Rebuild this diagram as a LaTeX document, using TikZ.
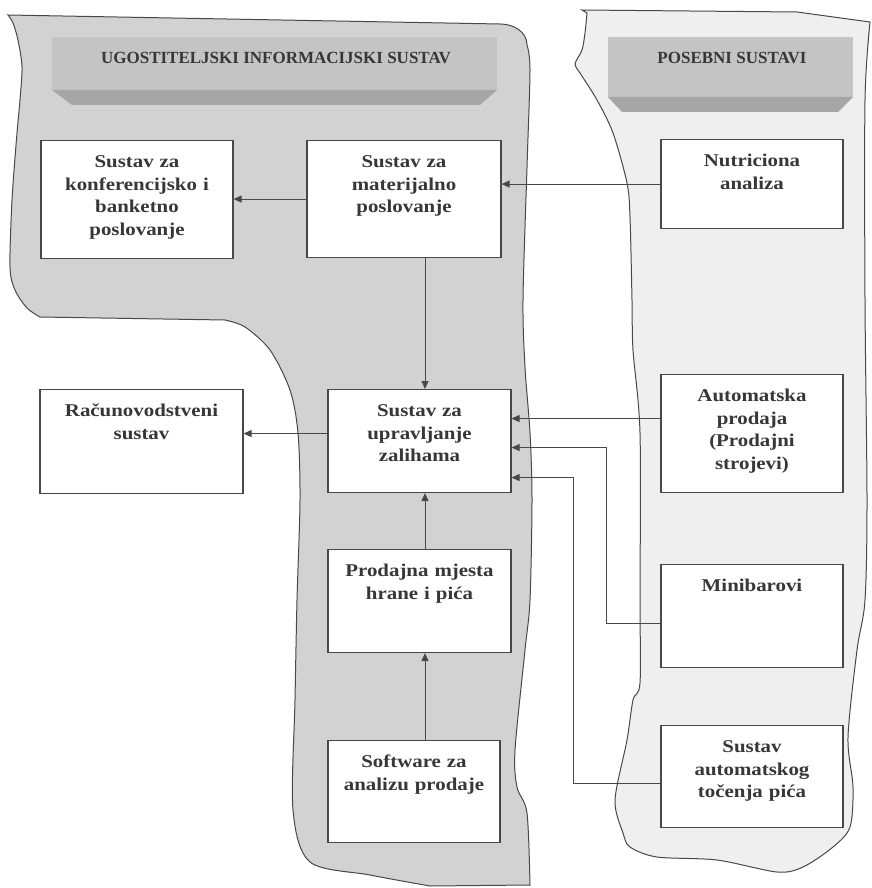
\documentclass[tikz,border=0pt]{standalone}
\usepackage{fontspec}
\usepackage{tikz}
\usetikzlibrary{arrows.meta,positioning,calc}
\setmainfont{Liberation Serif}
\newfontfamily\boxfont{Liberation Serif}[FakeStretch=1.16]
\definecolor{regionGray}{RGB}{210,210,210}
\definecolor{regionLight}{RGB}{239,239,239}
\definecolor{bannerGray}{RGB}{196,196,196}
\definecolor{bevelGray}{RGB}{166,166,166}
\definecolor{lineGray}{RGB}{72,72,72}
\definecolor{textGray}{RGB}{55,55,55}

\begin{document}
\begin{tikzpicture}[x=1pt,y=-1pt,
    region/.style={draw=lineGray, line width=1pt},
    sysbox/.style={draw=lineGray, line width=1.1pt, fill=white, text=textGray,
      anchor=north, align=center, inner xsep=0pt, inner ysep=0pt,
      text height=27pt, font=\boxfont\bfseries\fontsize{18}{22.5}\selectfont},
    hdr/.style={text=textGray, font=\bfseries\fontsize{17}{20}\selectfont},
    flow/.style={draw=lineGray, line width=1pt, -{Triangle[length=8pt,width=7pt]}}]
  \fill[white] (0,0) rectangle (871,888);
  \useasboundingbox (0,0) rectangle (871,888);

  % hospitality system region
  \filldraw[region, fill=regionGray] (8,15) -- (500,24) to[out=0,in=90] (527,45)
    -- plot[smooth,tension=.5] coordinates {(527,45) (530,70) (527,167) (523,300) (525,367)
       (530,433) (532,500) (530,600) (525,650) (515,750) (517,787) (527,813) (530,885)}
    -- (430,886)
    -- plot[smooth,tension=.5] coordinates {(430,886) (370,875) (310,862) (293,810) (295,700)
       (297,600) (300,500) (298,433) (290,390) (270,350) (245,327) (225,320)}
    -- (40,317)
    -- plot[smooth,tension=.5] coordinates {(40,317) (27,308) (15,290) (10,267) (12,200)
       (17,133) (20,100) (22,67) (18,40) (13,23) (8,15)}
    -- cycle;

  % special systems region
  \filldraw[region, fill=regionLight] (582,10) -- (797,12) -- (870,22)
    -- plot[smooth,tension=.5] coordinates {(870,22) (865,100) (865,300) (867,500) (865,600)
       (857,650) (848,737) (853,787) (850,827) (833,847) (803,867) (777,872) (717,860)
       (657,857) (630,847) (623,833) (615,800) (627,740) (633,700) (640,683) (640,600)
       (640,433) (633,350) (632,300) (630,217) (627,183) (613,133) (597,100) (580,73)
       (575,64) (582,50) (585,33) (587,13)}
    -- cycle;

  % banners
  \fill[bannerGray] (52,37) rectangle (497,90);
  \fill[bevelGray] (52,90) -- (497,90) -- (480,105) -- (72,105) -- cycle;
  \fill[bannerGray] (608,37) rectangle (853,97);
  \fill[bevelGray] (608,97) -- (853,97) -- (838,112) -- (622,112) -- cycle;
  \node[hdr] (hdrL) at (276,58) {UGOSTITELJSKI INFORMACIJSKI SUSTAV};
  \node[hdr] (hdrR) at (732,58) {POSEBNI SUSTAVI};

  % boxes
  \node[sysbox, text width=192pt, text depth=91pt] (konf) at (137,140) {Sustav za\\konferencijsko i\\banketno\\poslovanje};
  \node[sysbox, text width=194pt, text depth=90pt] (mat) at (404,140) {Sustav za\\materijalno\\poslovanje};
  \node[sysbox, text width=182pt, text depth=62pt] (nutri) at (752,139) {Nutriciona\\analiza};
  \node[sysbox, text width=203pt, text depth=77pt] (rac) at (141.5,389) {Računovodstveni\\sustav};
  \node[sysbox, text width=183pt, text depth=76pt] (zal) at (419.5,389) {Sustav za\\upravljanje\\zalihama};
  \node[sysbox, text width=182pt, text depth=91pt] (auto) at (752,374) {Automatska\\prodaja\\(Prodajni\\strojevi)};
  \node[sysbox, text width=183pt, text depth=76pt] (prod) at (419.5,549) {Prodajna mjesta\\hrane i pića};
  \node[sysbox, text width=182pt, text depth=76pt] (mini) at (752,564) {Minibarovi};
  \node[sysbox, text width=172pt, text depth=75pt] (soft) at (414,740) {Software za\\analizu prodaje};
  \node[sysbox, text width=182pt, text depth=75pt] (toc) at (752,725) {Sustav\\automatskog\\točenja pića};

  % connectors
  \coordinate (spine) at (425,0);
  \draw[flow] (mat.west) -- (mat.west -| konf.east);
  \draw[flow] (nutri.west) -- (nutri.west -| mat.east);
  \draw[flow] (mat.south -| spine) -- (zal.north -| spine);
  \draw[flow] (prod.north -| spine) -- (zal.south -| spine);
  \draw[flow] (soft.north -| spine) -- (prod.south -| spine);
  \draw[flow] ([yshift=7.5pt]zal.west) -- ([yshift=7.5pt]zal.west -| rac.east);
  \draw[flow] ([yshift=15pt]auto.west) -- ([yshift=15pt]auto.west -| zal.east);
  \draw[flow] ([yshift=-7.5pt]mini.west) -- ++(-54,0) |- ([yshift=-6.5pt]zal.east);
  \draw[flow] ([yshift=-7pt]toc.west) -- ++(-87,0) |- ([yshift=-36.5pt]zal.east);
\end{tikzpicture}
\end{document}
